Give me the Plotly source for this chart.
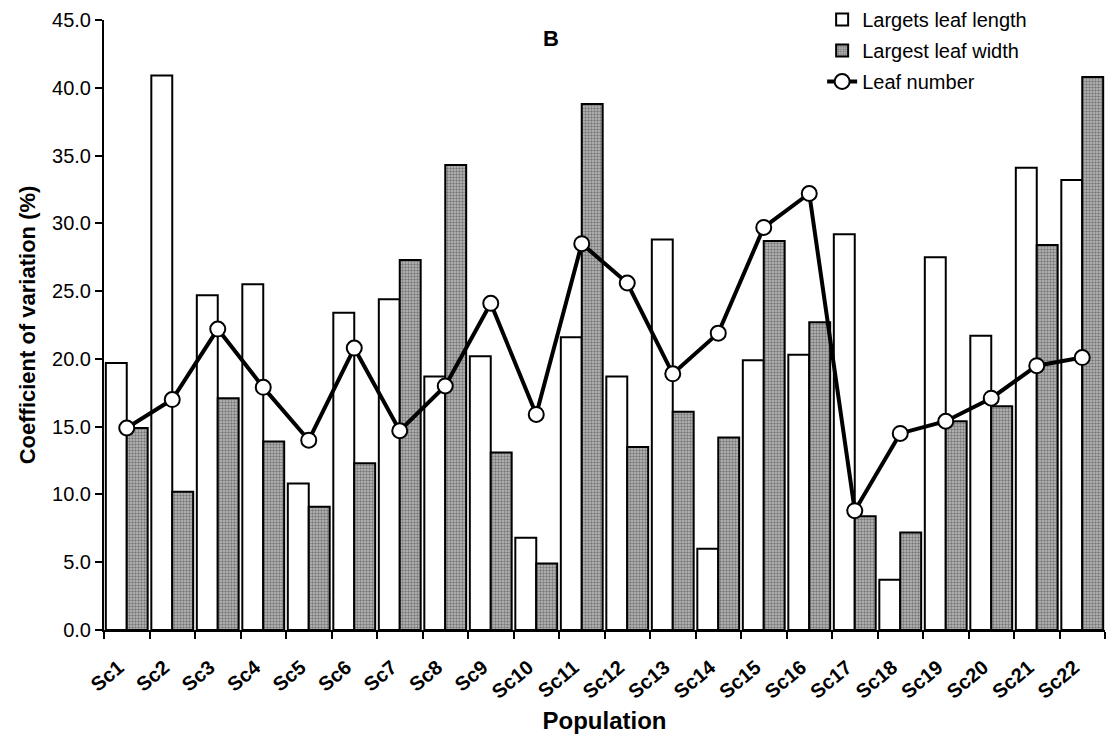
import plotly.graph_objects as go

categories = ["Sc%d" % i for i in range(1, 23)]
leaf_length = [19.7, 40.9, 24.7, 25.5, 10.8, 23.4, 24.4, 18.7, 20.2, 6.8, 21.6,
               18.7, 28.8, 6.0, 19.9, 20.3, 29.2, 3.7, 27.5, 21.7, 34.1, 33.2]
leaf_width = [14.9, 10.2, 17.1, 13.9, 9.1, 12.3, 27.3, 34.3, 13.1, 4.9, 38.8,
              13.5, 16.1, 14.2, 28.7, 22.7, 8.4, 7.2, 15.4, 16.5, 28.4, 40.8]
leaf_number = [14.9, 17.0, 22.2, 17.9, 14.0, 20.8, 14.7, 18.0, 24.1, 15.9, 28.5,
               25.6, 18.9, 21.9, 29.7, 32.2, 8.8, 14.5, 15.4, 17.1, 19.5, 20.1]
y_ticks = [0, 5, 10, 15, 20, 25, 30, 35, 40, 45]

FONT = "Liberation Sans, Arial, sans-serif"

fig = go.Figure()
fig.add_trace(go.Bar(
    x=categories, y=leaf_length, name="Largets leaf length", legendgroup="a",
    marker=dict(color="white", line=dict(color="black", width=2)),
))
fig.add_trace(go.Bar(
    x=categories, y=leaf_width, name="Largest leaf width", legendgroup="b",
    marker=dict(color="#b4b4b4", line=dict(color="black", width=2),
                pattern=dict(shape=".", fgcolor="#333333", bgcolor="#bdbdbd",
                             size=3, solidity=0.5)),
))
fig.add_trace(go.Scatter(
    x=categories, y=leaf_number, name="Leaf number", mode="lines+markers",
    legendgroup="c",
    line=dict(color="black", width=4),
    marker=dict(symbol="circle", size=15, color="white",
                line=dict(color="black", width=2)),
))

fig.update_layout(
    width=1114, height=749, autosize=False,
    margin=dict(l=104, r=9, t=20, b=119, autoexpand=False),
    paper_bgcolor="white", plot_bgcolor="white",
    barmode="group", bargap=0.08, bargroupgap=0.0,
    font=dict(family=FONT, color="black", size=16),
    legend=dict(x=0.738, y=1.0, xref="container", yref="container",
                xanchor="left", yanchor="top",
                bgcolor="rgba(255,255,255,0)", font=dict(size=20, family=FONT),
                itemwidth=30, tracegroupgap=2),
    showlegend=True,
    annotations=[dict(text="<b>B</b>", x=0.447, y=0.969, xref="paper", yref="paper",
                      xanchor="center", yanchor="middle",
                      showarrow=False, font=dict(size=22, family=FONT))],
)
fig.update_xaxes(
    type="category", range=[-0.5, 21.5], tickson="boundaries", ticks="outside", ticklen=7,
    tickwidth=2, tickcolor="black", tickangle=-40, automargin=False,
    ticklabelstandoff=16, ticklabelshift=-8,
    tickfont=dict(size=20, family=FONT, weight="bold"),
    showline=True, linecolor="black", linewidth=2, showgrid=False,
    title=dict(text="<b>Population</b>", font=dict(size=24, family=FONT), standoff=10),
)
fig.update_yaxes(
    range=[0, 45], tickvals=y_ticks, ticktext=["%.1f" % v for v in y_ticks],
    ticks="outside", ticklen=7, tickwidth=2, tickcolor="black", automargin=False,
    tickfont=dict(size=20, family=FONT),
    showline=True, linecolor="black", linewidth=2, showgrid=False, zeroline=False,
    title=dict(text="<b>Coefficient of variation (%)</b>", font=dict(size=22, family=FONT), standoff=10),
)

post = "document.body.style.margin='0';document.body.style.padding='0';document.body.style.overflow='hidden';"
fig.write_html("out.html", config={"responsive": False, "displayModeBar": False}, post_script=post)
